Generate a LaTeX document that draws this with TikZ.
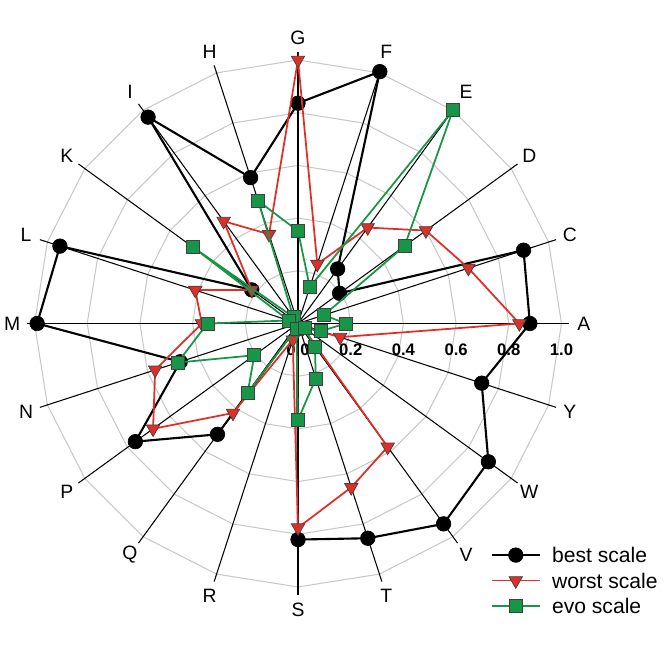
\documentclass[tikz,border=0pt]{standalone}
\usepackage{fontspec}
\setmainfont{Liberation Sans}
\usetikzlibrary{shapes.geometric,calc}

\definecolor{worstred}{RGB}{222,48,40}
\definecolor{evogreen}{RGB}{22,150,70}
\definecolor{gridgray}{RGB}{200,200,200}

\tikzset{
  bestdot/.style={circle,fill=black,draw=black,inner sep=0pt,minimum size=0.29cm},
  worstdot/.style={regular polygon,regular polygon sides=3,shape border rotate=180,
    fill=worstred,draw=black!75,line width=0.4pt,inner sep=0pt,minimum size=0.31cm},
  evodot/.style={rectangle,fill=evogreen,draw=black!75,line width=0.4pt,inner sep=0pt,minimum size=0.26cm},
  axislabel/.style={font=\fontsize{11}{13}\selectfont},
  legendlabel/.style={font=\fontsize{12}{14}\selectfont,anchor=west,inner sep=0pt},
}

\begin{document}
\begin{tikzpicture}[x=5.27cm,y=5.27cm]
  \useasboundingbox (-1.131,-1.2315) rectangle (1.4042,1.2277);
  % Grid
  \foreach \r in {1,...,5}
    \draw[gridgray,line width=0.6pt] (0:{\r/5}) \foreach \k in {1,...,19}{-- (\k*18:{\r/5})} -- cycle;
  % Spokes and labels
  \coordinate (O) at (0,0);
  \foreach \n [count=\i from 0] in {A,C,D,E,F,G,H,I,K,L,M,N,P,Q,R,S,T,V,W,Y}{
    \coordinate (end-\n) at (\i*18:1.03);
    \draw[line width=0.6pt] (O) -- (end-\n);
    \node[axislabel] (lab-\n) at (\i*18:1.085) {\n};
  }
  % Tick labels
  \foreach \v [count=\j] in {0.0,0.2,0.4,0.6,0.8,1.0}
    \node[font=\bfseries\fontsize{9.5}{11}\selectfont] (tick\j) at (\v,-0.099) {\v};

  % Best scale
  \foreach \v [count=\i from 0] in {0.88,0.90,0.195,0.256,1.005,0.836,0.582,0.968,0.217,0.95,0.99,0.47,0.763,0.52,0.01,0.82,0.857,0.94,0.893,0.733}
    \coordinate (b\i) at (\i*18:\v);
  \draw[line width=1.2pt] (b0) \foreach \i in {1,...,19}{-- (b\i)} -- cycle;
  \foreach \i in {0,...,19} \node[bestdot] (bm\i) at (b\i) {};

  % Worst scale
  \foreach \v [count=\i from 0] in {0.84,0.68,0.60,0.45,0.237,1.0,0.356,0.48,0.217,0.41,0.365,0.57,0.68,0.42,0.065,0.775,0.654,0.579,0.02,0.168}
    \coordinate (w\i) at (\i*18:\v);
  \draw[worstred,line width=1pt] (w0) \foreach \i in {1,...,19}{-- (w\i)} -- cycle;
  \foreach \i in {0,...,19} \node[worstdot] (wm\i) at (w\i) {};

  % Evo scale
  \foreach \v [count=\i from 0] in {0.18,0.104,0.50,1.0,0.145,0.351,0.489,0.03,0.493,0.037,0.344,0.48,0.205,0.325,0.02,0.366,0.219,0.109,0.03,0.093}
    \coordinate (e\i) at (\i*18:\v);
  \draw[evogreen,line width=1pt] (e0) \foreach \i in {1,...,19}{-- (e\i)} -- cycle;
  \foreach \i in {0,...,19} \node[evodot] (em\i) at (e\i) {};

  % Legend
  \foreach \mk/\col/\lw/\txt [count=\j] in {bestdot/black/1.2pt/best scale,worstdot/worstred/1pt/worst scale,evodot/evogreen/1pt/evo scale}{
    \coordinate (lga\j) at (0.735,{-0.879-0.0967*(\j-1)});
    \coordinate (lgb\j) at (0.918,{-0.879-0.0967*(\j-1)});
    \draw[\col,line width=\lw] (lga\j) -- (lgb\j);
    \node[\mk] (lgm\j) at ($(lga\j)!0.5!(lgb\j)$) {};
    \node[legendlabel] (lgt\j) at (0.963,{-0.879-0.0967*(\j-1)}) {\txt};
  }
\end{tikzpicture}
\end{document}
